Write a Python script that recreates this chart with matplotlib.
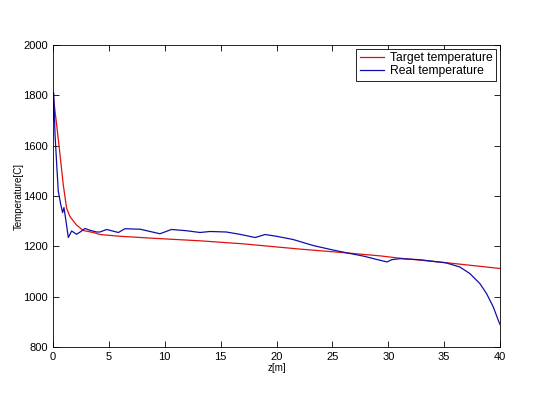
import numpy as np
import matplotlib
matplotlib.use("Agg")
import matplotlib.pyplot as plt

plt.rcParams['font.family'] = ['Liberation Sans', 'DejaVu Sans']

# ========== DATA ==========
# target temperature profile along z
z_target = [0, 0.33, 0.63, 0.92, 1.22, 1.52, 2.1, 2.7, 3.6, 4.2, 6, 9,
            13.15, 17, 22.1, 26, 29.3, 31, 35, 40]
t_target = [1805, 1682, 1563, 1444, 1351, 1318, 1285, 1263, 1255, 1247,
            1240, 1232, 1222, 1210, 1189, 1175, 1162, 1153, 1136, 1112]

# measured temperature profile along z
z_real = [0, 0.05, 0.1, 0.18, 0.33, 0.47, 0.69, 0.86, 0.98, 1.16, 1.37,
          1.67, 2.1, 2.4, 2.86, 3.3, 3.9, 4.2, 4.8, 5.85, 6.44, 7.8, 9.57,
          10.6, 11.96, 13.15, 14.05, 15.5, 16.7, 18.1, 18.97, 20, 21.5, 23.3,
          25.1, 26.3, 27.8, 28.96, 29.9, 30.3, 31.05, 32.8, 35.2, 36.4, 37.3,
          38.2, 38.8, 39.4, 39.9, 40]
t_real = [1700, 1810, 1760, 1645, 1526, 1420, 1367, 1334, 1354, 1301, 1235,
          1261, 1248, 1256, 1271, 1264, 1257, 1257, 1267, 1255, 1270,
          1268, 1250, 1267, 1262, 1255, 1259, 1257, 1248, 1235, 1247, 1240,
          1227, 1203, 1185, 1174, 1161, 1148, 1138, 1147, 1151, 1147, 1134,
          1118, 1092, 1052, 1012, 959, 900, 890]

# ========== PLOT ==========
fig = plt.figure(figsize=(5.55, 3.96), dpi=100)
ax = fig.add_axes([0.0955, 0.1237, 0.8054, 0.7627])

ax.plot(z_target, t_target, color='#e01010', linewidth=0.9, label='Target temperature')
ax.plot(z_real, t_real, color='#1010a8', linewidth=0.9, label='Real temperature')

ax.set_xlim(0, 40)
ax.set_ylim(800, 2000)
ax.set_xticks(np.arange(0, 41, 5))
ax.set_yticks(np.arange(800, 2001, 200))
ax.tick_params(direction='in', top=True, right=True, labelsize=8, length=4, width=0.6)
for s in ax.spines.values():
    s.set_linewidth(0.6)

ax.set_xlabel('z[m]', fontsize=7, labelpad=1)
ax.set_ylabel('Temperature[C]', fontsize=7, labelpad=0)

leg = ax.legend(loc='upper right', fontsize=8.7, fancybox=False, framealpha=1,
                edgecolor='black', handlelength=2.0, handletextpad=0.5,
                borderaxespad=0.3, labelspacing=0.1, borderpad=0.3)
leg.get_frame().set_linewidth(0.6)

fig.savefig('out.png', dpi=100)
